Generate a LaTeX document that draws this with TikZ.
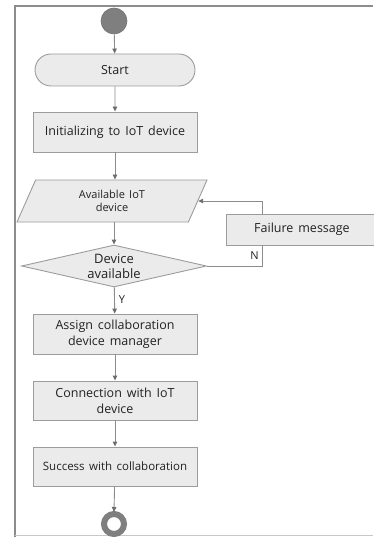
\documentclass[tikz,border=0pt]{standalone}
\usepackage{fontspec}
\setmainfont[WordSpace=1.5]{Open Sans}
\usetikzlibrary{shapes.geometric,shapes.misc,arrows.meta}
\definecolor{boxfill}{HTML}{EBEBEB}
\definecolor{boxline}{HTML}{9C9C9C}
\definecolor{conn}{HTML}{8C8C8C}
\definecolor{tipc}{HTML}{6E6E6E}
\definecolor{txt}{HTML}{222222}
\definecolor{dot}{HTML}{7F7F7F}
\tikzset{
  box/.style={draw=boxline, fill=boxfill, line width=0.9pt, text=txt, align=center,
    minimum width=164pt, inner sep=2pt},
  fs/.style={font=\fontsize{#1}{16}\selectfont},
  line/.style={draw=conn, line width=0.9pt},
  arr/.style={line, -{Triangle[length=5pt,width=4.5pt,fill=tipc,color=tipc]}},
  lbl/.style={text=txt, font=\fontsize{11}{12}\selectfont, inner sep=0pt}
}
\begin{document}
\begin{tikzpicture}[x=1pt,y=-1pt]
\useasboundingbox (0,0) rectangle (373,537);
% frame
\draw[draw=conn, line width=2pt] (14.5,537) -- (14.5,6.5) -- (373,6.5);
\draw[draw=black!22, line width=1pt] (14.5,535.5) -- (373,535.5);
% nodes
\node[circle, fill=dot, draw=dot!90!black, line width=0.6pt, minimum size=26pt, inner sep=0pt] (s0) at (114,21) {};
\node[box, rounded rectangle, minimum height=32pt, fs=12.5] (start) at (115,70) {Start};
\node[box, minimum height=40pt, fs=12.5] (init) at (115,132) {Initializing to IoT device};
\node[box, trapezium, trapezium left angle=51, trapezium right angle=129, trapezium stretches body=true,
  minimum width=190pt, minimum height=42pt, inner sep=1pt, font=\fontsize{11}{12.5}\selectfont] (avail) at (112,201) {Available IoT\\device};
\node[box, diamond, aspect=4.4, inner sep=0pt, minimum width=185pt, minimum height=42pt,
  font=\fontsize{13}{15}\selectfont] (dec) at (114,266) {Device\\available};
\node[box, minimum width=152pt, minimum height=31pt, fs=12.5] (fail) at (302,229.5) {Failure message};
\node[box, minimum height=40pt, fs=12.5] (assign) at (115,334) {Assign collaboration\\device manager};
\node[box, minimum height=39pt, fs=12.5] (connect) at (115,400.5) {Connection with IoT\\device};
\node[box, minimum height=39pt, font=\fontsize{11.5}{12}\selectfont] (succ) at (115,466.5) {Success with collaboration};
\node[circle, draw=dot, line width=6pt, fill=white, minimum size=20pt, inner sep=0pt] (s1) at (114,524) {};
\coordinate (fx) at (262,0);
% connectors
\draw[arr] (s0) -- (start);
\draw[arr] (start) -- (init);
\draw[arr] (init.south) -- (init.south |- avail.north);
\draw[arr] (dec.north |- avail.south) -- (dec.north);
\draw[arr] (dec) -- (assign) node[lbl, pos=0.45, right=4pt] {Y};
\draw[arr] (assign) -- (connect);
\draw[arr] (connect) -- (succ);
\draw[arr] (succ) -- ([yshift=-1pt]s1.north);
\draw[line] (dec.east) -| (fail.south -| fx) node[lbl, pos=0.76, left=3pt] {N};
\draw[arr] (fail.north -| fx) |- (avail.east);
\end{tikzpicture}
\end{document}
